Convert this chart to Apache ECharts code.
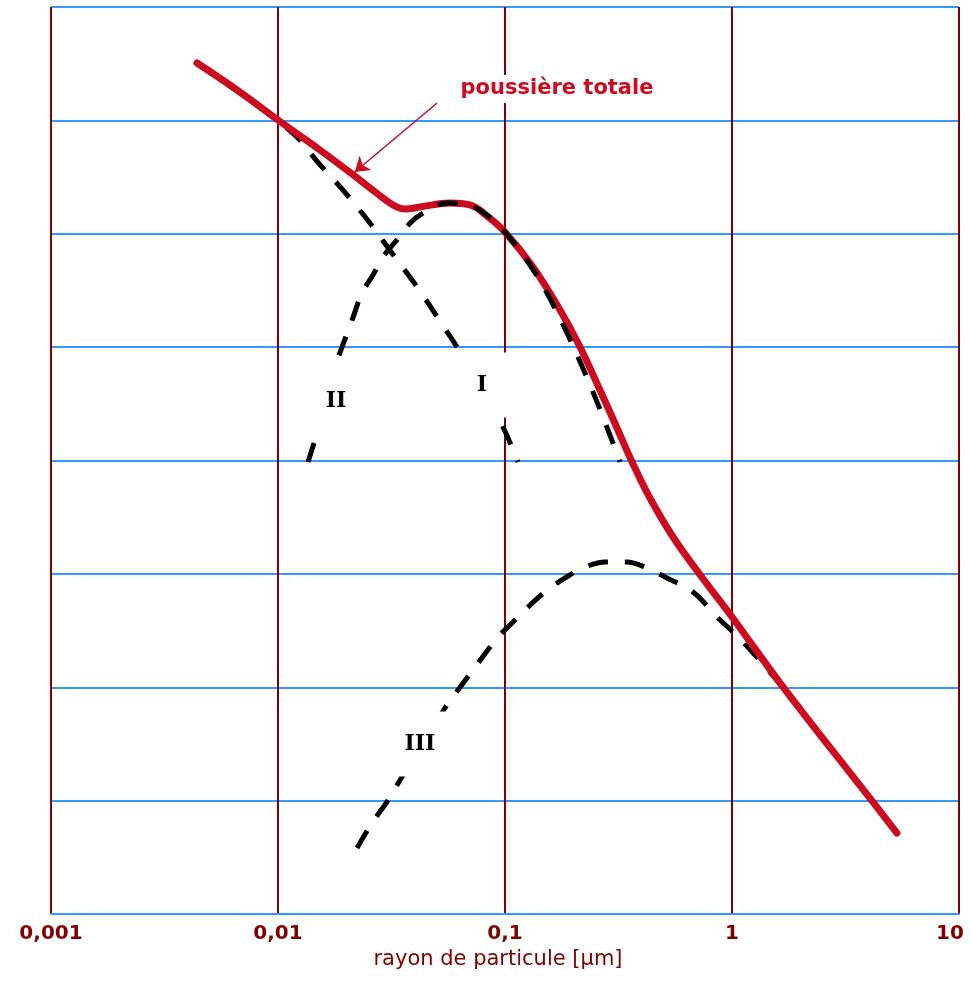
<!DOCTYPE html>
<html>
<head>
<meta charset="utf-8">
<script src="https://cdn.jsdelivr.net/npm/echarts@6/dist/echarts.min.js"></script>
<style>
  html, body { margin: 0; padding: 0; background: #ffffff; }
  #chart { width: 971px; height: 981px; }
</style>
</head>
<body>
<div id="chart"></div>
<script>
// ---- Data (particle radius in µm, relative log-size distribution) ----
const xTickLabels = ['0,001', '0,01', '0,1', '1', '10'];
const xAxisName = 'rayon de particule [µm]';

// total dust (poussière totale)
const totalX = [0.0044, 0.0068, 0.01, 0.0153, 0.0212, 0.0268, 0.0321, 0.0363, 0.0422, 0.0573, 0.0701, 0.0833, 0.1, 0.1328, 0.1747, 0.214, 0.262, 0.3115, 0.363, 0.435, 0.55, 0.730, 1.0, 1.68, 4.14, 5.33];
const totalY = [7.506, 7.250, 7.003, 6.739, 6.527, 6.368, 6.254, 6.218, 6.236, 6.271, 6.254, 6.157, 6.015, 5.707, 5.327, 5.001, 4.622, 4.287, 3.987, 3.669, 3.325, 2.981, 2.620, 2.002, 0.997, 0.714];

// mode I
const modeIX = [0.00435, 0.0068, 0.01, 0.0125, 0.0147, 0.0193, 0.0252, 0.0315, 0.041, 0.0517, 0.0634, 0.0792, 0.098, 0.1141];
const modeIY = [7.506, 7.241, 6.994, 6.827, 6.650, 6.386, 6.104, 5.839, 5.530, 5.230, 4.957, 4.622, 4.295, 3.987];

// mode II
const modeIIX = [0.01356, 0.0150, 0.01627, 0.01765, 0.0193, 0.0212, 0.02345, 0.0262, 0.029, 0.0328, 0.0382, 0.0444, 0.0555, 0.0667, 0.0833, 0.1, 0.1263, 0.1531, 0.1876, 0.2251, 0.2702, 0.3211];
const modeIIY = [3.987, 4.269, 4.534, 4.798, 5.019, 5.239, 5.477, 5.636, 5.795, 5.927, 6.095, 6.192, 6.271, 6.262, 6.165, 6.015, 5.751, 5.477, 5.125, 4.772, 4.384, 3.987];

// mode III
const modeIIIX = [0.0223, 0.02595, 0.0302, 0.0345, 0.0431, 0.0544, 0.0621, 0.0761, 0.0932, 0.1085, 0.1289, 0.15, 0.1838, 0.2206, 0.2758, 0.3447, 0.4222, 0.5068, 0.6733, 0.8677, 1.01, 1.263, 1.68, 4.14, 5.33];
const modeIIIY = [0.582, 0.803, 0.988, 1.182, 1.491, 1.817, 1.976, 2.214, 2.443, 2.576, 2.725, 2.840, 2.964, 3.052, 3.105, 3.105, 3.052, 2.972, 2.840, 2.611, 2.487, 2.284, 1.993, 0.997, 0.714];

// annotations
const modeLabels = ['I', 'II', 'III'];
const modeLabelX = [0.0792, 0.018, 0.0422];
const modeLabelY = [4.666, 4.525, 1.4995];
const totalLabel = 'poussière totale';
const totalLabelX = 0.1695, totalLabelY = 7.277;
const arrowFrom = [0.0502, 7.153];
const arrowTo = [0.0218, 6.545];

const zip = (xs, ys) => xs.map((x, i) => [x, ys[i]]);

const RED = '#cc0a20';
const DARKRED = '#800000';
const BLUE = '#3399ff';

const dashStyle = { color: '#000000', width: 5, type: [20, 17], cap: 'butt' };

const chart = echarts.init(document.getElementById('chart'), null, { renderer: 'canvas' });
chart.setOption({
  animation: false,
  backgroundColor: '#ffffff',
  grid: { left: 51, right: 12, top: 7, bottom: 67, containLabel: false },
  xAxis: {
    type: 'log',
    logBase: 10,
    min: 0.001,
    max: 10,
    name: xAxisName,
    nameLocation: 'middle',
    nameGap: 35,
    nameTextStyle: { color: DARKRED, fontFamily: 'DejaVu Sans', fontSize: 21, padding: [0, 14, 0, 0] },
    axisLine: { show: true, lineStyle: { color: BLUE, width: 2 } },
    axisTick: { show: false },
    splitLine: { show: true, lineStyle: { color: DARKRED, width: 2 } },
    axisLabel: {
      margin: 10,
      color: DARKRED,
      fontFamily: 'DejaVu Sans',
      fontWeight: 'bold',
      fontSize: 20,
      formatter: function (v) {
        const i = Math.round(Math.log10(v)) + 3;
        const t = xTickLabels[i];
        if (i === xTickLabels.length - 1) return '{r|' + t + '}';
        return t;
      },
      rich: {
        r: { color: DARKRED, fontFamily: 'DejaVu Sans', fontWeight: 'bold', fontSize: 20, padding: [0, 18, 0, 0] }
      }
    }
  },
  yAxis: {
    type: 'value',
    min: 0,
    max: 8,
    interval: 1,
    axisLine: { show: false },
    axisTick: { show: false },
    axisLabel: { show: false },
    splitLine: { show: true, lineStyle: { color: BLUE, width: 2 } }
  },
  series: [
    {
      name: 'I', type: 'line', z: 2, smooth: 0.35, symbol: 'none', silent: true,
      data: zip(modeIX, modeIY), lineStyle: dashStyle
    },
    {
      name: 'III', type: 'line', z: 2, smooth: 0.35, symbol: 'none', silent: true,
      data: zip(modeIIIX, modeIIIY), lineStyle: dashStyle
    },
    {
      name: 'total', type: 'line', z: 3, smooth: 0.4, symbol: 'none', silent: true,
      data: zip(totalX, totalY),
      lineStyle: { color: RED, width: 7, cap: 'round' },
      markLine: {
        silent: true,
        animation: false,
        symbol: ['none', 'arrow'],
        symbolSize: 14,
        label: { show: false },
        lineStyle: { color: RED, width: 1.5, type: 'solid' },
        data: [[{ coord: arrowFrom }, { coord: arrowTo }]]
      }
    },
    {
      name: 'II', type: 'line', z: 4, smooth: 0.35, symbol: 'none', silent: true,
      data: zip(modeIIX, modeIIY), lineStyle: dashStyle
    },
    {
      name: 'labels', type: 'scatter', z: 10, silent: true,
      symbol: 'rect',
      itemStyle: { color: '#ffffff', opacity: 1 },
      data: modeLabels.map((t, i) => ({
        value: [modeLabelX[i], modeLabelY[i]],
        name: t,
        symbolSize: [60, 65],
        label: {
          show: true, position: 'inside', formatter: t, opacity: 1,
          color: '#000000', fontFamily: 'DejaVu Serif', fontWeight: 'bold', fontSize: 22
        }
      })).concat([{
        value: [totalLabelX, totalLabelY],
        name: totalLabel,
        symbolSize: [200, 28],
        label: {
          show: true, position: 'inside', formatter: totalLabel, opacity: 1,
          color: RED, fontFamily: 'DejaVu Sans', fontWeight: 'bold', fontSize: 21
        }
      }])
    }
  ]
});
</script>
</body>
</html>
